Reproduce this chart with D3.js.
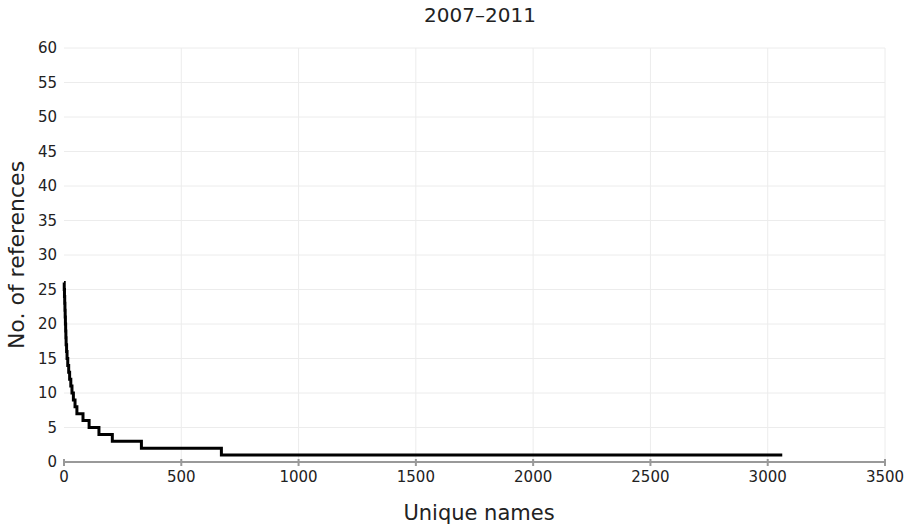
<!DOCTYPE html>
<html>
<head>
<meta charset="utf-8">
<script src="https://cdn.jsdelivr.net/npm/d3@7"></script>
<style>
  body { margin: 0; background: #fff; }
  text { font-family: "DejaVu Sans", Verdana, sans-serif; fill: #222; }
</style>
</head>
<body>
<div id="chart"></div>
<script>
// number of references per name, and the rank where each level begins
const refCounts = [26, 25, 24, 23, 22, 21, 20, 19, 18, 17, 16, 15, 14, 13, 12, 11, 10, 9, 8, 7, 6, 5, 4, 3, 2, 1];
const startRank = [0, 1, 2, 3, 4, 5, 6, 7, 8, 9, 11, 13, 16, 20, 24, 29, 34, 40, 47, 55, 81, 107, 149, 206, 330, 671];
const lastRank = 3062;
const xTicks = [0, 500, 1000, 1500, 2000, 2500, 3000, 3500];
const yTicks = [0, 5, 10, 15, 20, 25, 30, 35, 40, 45, 50, 55, 60];

const W = 908, H = 527;
const margin = { top: 48, right: 23, bottom: 65, left: 64 };
const width = W - margin.left - margin.right;
const height = H - margin.top - margin.bottom;

const svg = d3.select("#chart").append("svg")
    .attr("width", W)
    .attr("height", H);

const g = svg.append("g")
    .attr("transform", `translate(${margin.left}, ${margin.top})`);

const x = d3.scaleLinear().domain([0, 3500]).range([0, width]);
const y = d3.scaleLinear().domain([0, 60]).range([height, 0]);

// grid
g.append("g").selectAll("line")
    .data(yTicks.slice(1))
    .enter().append("line")
    .attr("x1", 0).attr("x2", width)
    .attr("y1", d => y(d)).attr("y2", d => y(d))
    .attr("stroke", "#ececec");

g.append("g").selectAll("line")
    .data(xTicks.slice(1))
    .enter().append("line")
    .attr("x1", d => x(d)).attr("x2", d => x(d))
    .attr("y1", 0).attr("y2", height)
    .attr("stroke", "#ececec");

// y labels (no axis line)
g.append("g").selectAll("text")
    .data(yTicks)
    .enter().append("text")
    .attr("x", -7)
    .attr("y", d => y(d) + 5)
    .attr("text-anchor", "end")
    .style("font-size", "15px")
    .text(d => d);

// x axis
const xAxis = g.append("g")
    .attr("transform", `translate(0, ${height})`);
xAxis.append("line")
    .attr("x1", 0).attr("x2", width)
    .attr("stroke", "#999").attr("stroke-width", 2);
xAxis.selectAll(".tick")
    .data(xTicks)
    .enter().append("line")
    .attr("x1", d => x(d)).attr("x2", d => x(d))
    .attr("y1", -3).attr("y2", 4)
    .attr("stroke", "#999").attr("stroke-width", 2);
xAxis.selectAll("text")
    .data(xTicks)
    .enter().append("text")
    .attr("x", d => x(d))
    .attr("y", 20)
    .attr("text-anchor", "middle")
    .style("font-size", "15px")
    .text(d => d);

// step line
const points = refCounts.map((v, i) => [startRank[i], v]);
points.push([lastRank, 1]);

const line = d3.line()
    .x(d => x(d[0]))
    .y(d => y(d[1]))
    .curve(d3.curveStepAfter);

g.append("path")
    .datum(points)
    .attr("fill", "none")
    .attr("stroke", "#000")
    .attr("stroke-width", 3)
    .attr("d", line);

// titles
svg.append("text")
    .attr("x", 480).attr("y", 22)
    .attr("text-anchor", "middle")
    .style("font-size", "20px")
    .text("2007\u20132011");

svg.append("text")
    .attr("x", 479).attr("y", 520)
    .attr("text-anchor", "middle")
    .style("font-size", "21px")
    .text("Unique names");

svg.append("text")
    .attr("transform", "translate(24, 255) rotate(-90)")
    .attr("text-anchor", "middle")
    .style("font-size", "22px")
    .text("No. of references");
</script>
</body>
</html>
